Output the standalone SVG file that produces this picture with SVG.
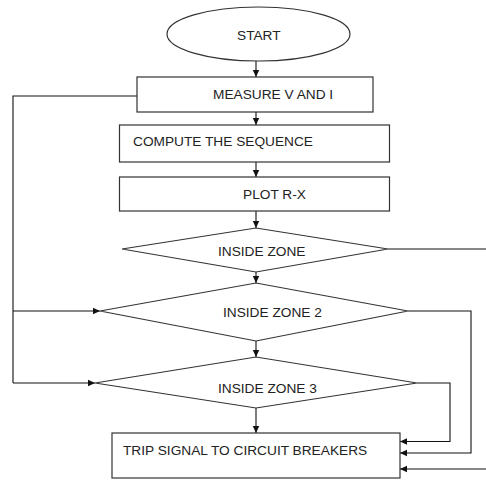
<svg xmlns="http://www.w3.org/2000/svg" width="486" height="481" viewBox="0 0 486 481">
<style>
.n{fill:#fff;stroke:#333;stroke-width:1.2}
.c{fill:none;stroke:#111;stroke-width:1.1}
text{font-family:"Liberation Sans",Arial,sans-serif;font-size:13.7px;fill:#222}
</style>
<defs>
<marker id="a" markerUnits="userSpaceOnUse" markerWidth="8" markerHeight="8" refX="7" refY="4" orient="auto">
<path d="M0,0.8 L7,4 L0,7.2 z" fill="#111"/>
</marker>
</defs>
<rect width="486" height="481" fill="#fff"/>
<g id="connectors">
<line class="c" x1="256" y1="61" x2="256" y2="77" marker-end="url(#a)"/>
<line class="c" x1="256" y1="112" x2="256" y2="125" marker-end="url(#a)"/>
<line class="c" x1="256" y1="162" x2="256" y2="177" marker-end="url(#a)"/>
<line class="c" x1="256" y1="211" x2="256" y2="228" marker-end="url(#a)"/>
<line class="c" x1="256" y1="272" x2="256" y2="283" marker-end="url(#a)"/>
<line class="c" x1="256" y1="341" x2="256" y2="357" marker-end="url(#a)"/>
<line class="c" x1="256" y1="408" x2="256" y2="433" marker-end="url(#a)"/>
<polyline class="c" points="137,96 13,96 13,383"/>
<line class="c" x1="13" y1="311" x2="100" y2="311" marker-end="url(#a)"/>
<line class="c" x1="13" y1="383" x2="95" y2="383" marker-end="url(#a)"/>
<line class="c" x1="388" y1="249" x2="486" y2="249"/>
<polyline class="c" points="408,311 471,311 471,453 400,453" marker-end="url(#a)"/>
<polyline class="c" points="417,383 450,383 450,441.5 400,441.5" marker-end="url(#a)"/>
<line class="c" x1="486" y1="469" x2="400" y2="469" marker-end="url(#a)"/>
</g>
<g id="start">
<ellipse class="n" cx="258.5" cy="34" rx="91.5" ry="27"/>
<text x="237" y="39.5">START</text>
</g>
<g id="measure">
<rect class="n" x="137" y="77" width="236" height="35"/>
<text x="213" y="99">MEASURE V AND I</text>
</g>
<g id="compute">
<rect class="n" x="119.5" y="125" width="270" height="37"/>
<text x="133" y="146">COMPUTE THE SEQUENCE</text>
</g>
<g id="plot">
<rect class="n" x="119.5" y="177" width="270" height="34"/>
<text x="243" y="198.7">PLOT R-X</text>
</g>
<g id="zone1">
<polygon class="n" points="122,249 256,228 388,249 256,272"/>
<text x="218" y="256">INSIDE ZONE</text>
</g>
<g id="zone2">
<polygon class="n" points="100,311 256,283 408,311 256,341"/>
<text x="223" y="316.7">INSIDE ZONE 2</text>
</g>
<g id="zone3">
<polygon class="n" points="95,383 256,357 417,383 256,408"/>
<text x="218" y="393.3">INSIDE ZONE 3</text>
</g>
<g id="trip">
<rect class="n" x="112" y="433" width="288" height="45"/>
<text x="123" y="455">TRIP SIGNAL TO CIRCUIT BREAKERS</text>
</g>
</svg>
